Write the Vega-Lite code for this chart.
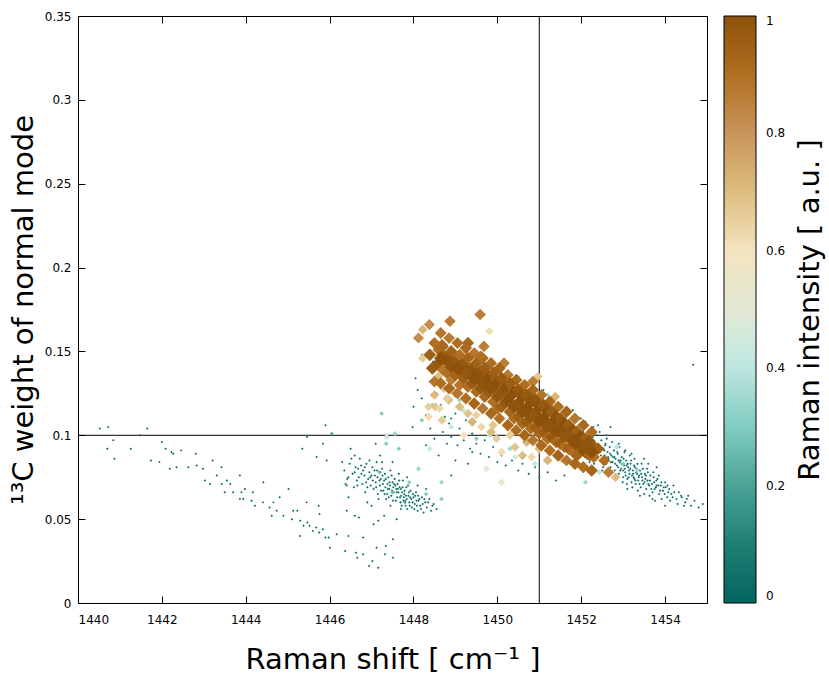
{
  "$schema": "https://vega.github.io/schema/vega-lite/v6.json",
  "width": 629,
  "height": 587,
  "autosize": {"type": "none"},
  "padding": {"left": 78, "top": 16, "right": 122, "bottom": 72},
  "background": "white",
  "config": {
    "font": "DejaVu Sans",
    "view": {"stroke": "black", "strokeWidth": 1},
    "axis": {
      "domain": false,
      "grid": false,
      "tickColor": "black",
      "tickSize": -7,
      "labelColor": "black",
      "labelFontSize": 12,
      "titleColor": "black",
      "titleFontSize": 29,
      "titleFontWeight": "normal"
    }
  },
  "resolve": {"axis": {"x": "independent", "y": "independent"}},
  "datasets": {
    "modes": [
      {"shift": 1440.52, "weight": 0.104, "intensity": 0.03},
      {"shift": 1440.72, "weight": 0.105, "intensity": 0.03},
      {"shift": 1441.65, "weight": 0.104, "intensity": 0.03},
      {"shift": 1441.48, "weight": 0.1, "intensity": 0.03},
      {"shift": 1440.7, "weight": 0.092, "intensity": 0.03},
      {"shift": 1440.84, "weight": 0.097, "intensity": 0.03},
      {"shift": 1440.87, "weight": 0.086, "intensity": 0.03},
      {"shift": 1441.26, "weight": 0.092, "intensity": 0.03},
      {"shift": 1441.74, "weight": 0.085, "intensity": 0.03},
      {"shift": 1441.94, "weight": 0.084, "intensity": 0.03},
      {"shift": 1442.0, "weight": 0.096, "intensity": 0.03},
      {"shift": 1442.09, "weight": 0.092, "intensity": 0.03},
      {"shift": 1442.23, "weight": 0.09, "intensity": 0.03},
      {"shift": 1442.27, "weight": 0.089, "intensity": 0.03},
      {"shift": 1442.46, "weight": 0.091, "intensity": 0.03},
      {"shift": 1442.19, "weight": 0.08, "intensity": 0.03},
      {"shift": 1442.35, "weight": 0.081, "intensity": 0.03},
      {"shift": 1442.63, "weight": 0.081, "intensity": 0.03},
      {"shift": 1442.83, "weight": 0.082, "intensity": 0.03},
      {"shift": 1442.81, "weight": 0.089, "intensity": 0.03},
      {"shift": 1442.98, "weight": 0.08, "intensity": 0.03},
      {"shift": 1443.21, "weight": 0.085, "intensity": 0.03},
      {"shift": 1443.42, "weight": 0.081, "intensity": 0.03},
      {"shift": 1443.03, "weight": 0.073, "intensity": 0.03},
      {"shift": 1443.15, "weight": 0.071, "intensity": 0.03},
      {"shift": 1443.31, "weight": 0.076, "intensity": 0.03},
      {"shift": 1443.43, "weight": 0.071, "intensity": 0.03},
      {"shift": 1443.55, "weight": 0.073, "intensity": 0.03},
      {"shift": 1443.63, "weight": 0.071, "intensity": 0.03},
      {"shift": 1443.5, "weight": 0.066, "intensity": 0.03},
      {"shift": 1443.7, "weight": 0.066, "intensity": 0.03},
      {"shift": 1443.86, "weight": 0.076, "intensity": 0.03},
      {"shift": 1443.98, "weight": 0.068, "intensity": 0.03},
      {"shift": 1443.9, "weight": 0.066, "intensity": 0.03},
      {"shift": 1443.94, "weight": 0.062, "intensity": 0.03},
      {"shift": 1444.17, "weight": 0.066, "intensity": 0.03},
      {"shift": 1443.86, "weight": 0.062, "intensity": 0.03},
      {"shift": 1444.14, "weight": 0.061, "intensity": 0.03},
      {"shift": 1444.22, "weight": 0.058, "intensity": 0.03},
      {"shift": 1444.42, "weight": 0.072, "intensity": 0.03},
      {"shift": 1444.41, "weight": 0.06, "intensity": 0.03},
      {"shift": 1444.57, "weight": 0.057, "intensity": 0.03},
      {"shift": 1444.62, "weight": 0.052, "intensity": 0.03},
      {"shift": 1444.66, "weight": 0.06, "intensity": 0.03},
      {"shift": 1444.81, "weight": 0.063, "intensity": 0.03},
      {"shift": 1444.74, "weight": 0.055, "intensity": 0.03},
      {"shift": 1444.9, "weight": 0.052, "intensity": 0.03},
      {"shift": 1445.02, "weight": 0.068, "intensity": 0.03},
      {"shift": 1445.13, "weight": 0.055, "intensity": 0.03},
      {"shift": 1445.23, "weight": 0.055, "intensity": 0.03},
      {"shift": 1445.1, "weight": 0.05, "intensity": 0.03},
      {"shift": 1445.3, "weight": 0.049, "intensity": 0.03},
      {"shift": 1445.38, "weight": 0.046, "intensity": 0.03},
      {"shift": 1445.47, "weight": 0.048, "intensity": 0.03},
      {"shift": 1445.29, "weight": 0.04, "intensity": 0.03},
      {"shift": 1445.45, "weight": 0.06, "intensity": 0.03},
      {"shift": 1445.52, "weight": 0.046, "intensity": 0.03},
      {"shift": 1445.6, "weight": 0.043, "intensity": 0.03},
      {"shift": 1445.68, "weight": 0.045, "intensity": 0.03},
      {"shift": 1445.75, "weight": 0.042, "intensity": 0.03},
      {"shift": 1445.84, "weight": 0.044, "intensity": 0.03},
      {"shift": 1445.9, "weight": 0.039, "intensity": 0.03},
      {"shift": 1445.74, "weight": 0.058, "intensity": 0.03},
      {"shift": 1445.76, "weight": 0.053, "intensity": 0.03},
      {"shift": 1445.98, "weight": 0.039, "intensity": 0.03},
      {"shift": 1446.01, "weight": 0.033, "intensity": 0.03},
      {"shift": 1446.17, "weight": 0.041, "intensity": 0.03},
      {"shift": 1446.37, "weight": 0.031, "intensity": 0.03},
      {"shift": 1446.45, "weight": 0.04, "intensity": 0.03},
      {"shift": 1446.63, "weight": 0.03, "intensity": 0.03},
      {"shift": 1446.66, "weight": 0.027, "intensity": 0.03},
      {"shift": 1446.8, "weight": 0.039, "intensity": 0.03},
      {"shift": 1446.8, "weight": 0.029, "intensity": 0.03},
      {"shift": 1446.94, "weight": 0.022, "intensity": 0.03},
      {"shift": 1447.02, "weight": 0.025, "intensity": 0.03},
      {"shift": 1447.16, "weight": 0.021, "intensity": 0.03},
      {"shift": 1447.32, "weight": 0.029, "intensity": 0.03},
      {"shift": 1447.51, "weight": 0.027, "intensity": 0.03},
      {"shift": 1447.34, "weight": 0.034, "intensity": 0.03},
      {"shift": 1447.51, "weight": 0.038, "intensity": 0.03},
      {"shift": 1447.12, "weight": 0.033, "intensity": 0.03},
      {"shift": 1447.16, "weight": 0.049, "intensity": 0.03},
      {"shift": 1447.05, "weight": 0.047, "intensity": 0.03},
      {"shift": 1446.7, "weight": 0.051, "intensity": 0.03},
      {"shift": 1446.6, "weight": 0.052, "intensity": 0.03},
      {"shift": 1446.41, "weight": 0.055, "intensity": 0.03},
      {"shift": 1446.66, "weight": 0.07, "intensity": 0.03},
      {"shift": 1446.41, "weight": 0.07, "intensity": 0.03},
      {"shift": 1446.45, "weight": 0.075, "intensity": 0.03},
      {"shift": 1445.9, "weight": 0.106, "intensity": 0.03},
      {"shift": 1445.46, "weight": 0.099, "intensity": 0.03},
      {"shift": 1445.84, "weight": 0.095, "intensity": 0.03},
      {"shift": 1445.35, "weight": 0.092, "intensity": 0.03},
      {"shift": 1445.93, "weight": 0.085, "intensity": 0.03},
      {"shift": 1445.69, "weight": 0.087, "intensity": 0.03},
      {"shift": 1446.35, "weight": 0.079, "intensity": 0.05},
      {"shift": 1446.42, "weight": 0.074, "intensity": 0.05},
      {"shift": 1446.48, "weight": 0.083, "intensity": 0.05},
      {"shift": 1446.55, "weight": 0.077, "intensity": 0.05},
      {"shift": 1446.58, "weight": 0.069, "intensity": 0.05},
      {"shift": 1446.62, "weight": 0.081, "intensity": 0.05},
      {"shift": 1446.7, "weight": 0.075, "intensity": 0.08},
      {"shift": 1446.72, "weight": 0.086, "intensity": 0.05},
      {"shift": 1446.78, "weight": 0.071, "intensity": 0.05},
      {"shift": 1446.8, "weight": 0.079, "intensity": 0.05},
      {"shift": 1446.85, "weight": 0.066, "intensity": 0.05},
      {"shift": 1446.88, "weight": 0.083, "intensity": 0.08},
      {"shift": 1446.92, "weight": 0.074, "intensity": 0.05},
      {"shift": 1446.95, "weight": 0.078, "intensity": 0.05},
      {"shift": 1446.98, "weight": 0.07, "intensity": 0.05},
      {"shift": 1447.02, "weight": 0.081, "intensity": 0.05},
      {"shift": 1447.05, "weight": 0.068, "intensity": 0.08},
      {"shift": 1447.08, "weight": 0.076, "intensity": 0.05},
      {"shift": 1447.1, "weight": 0.072, "intensity": 0.05},
      {"shift": 1447.12, "weight": 0.084, "intensity": 0.05},
      {"shift": 1447.15, "weight": 0.065, "intensity": 0.05},
      {"shift": 1447.18, "weight": 0.078, "intensity": 0.08},
      {"shift": 1447.2, "weight": 0.07, "intensity": 0.05},
      {"shift": 1447.22, "weight": 0.074, "intensity": 0.05},
      {"shift": 1447.25, "weight": 0.08, "intensity": 0.05},
      {"shift": 1447.28, "weight": 0.067, "intensity": 0.05},
      {"shift": 1447.3, "weight": 0.073, "intensity": 0.08},
      {"shift": 1447.32, "weight": 0.077, "intensity": 0.05},
      {"shift": 1447.35, "weight": 0.062, "intensity": 0.05},
      {"shift": 1447.38, "weight": 0.071, "intensity": 0.05},
      {"shift": 1447.4, "weight": 0.075, "intensity": 0.05},
      {"shift": 1447.42, "weight": 0.068, "intensity": 0.1},
      {"shift": 1447.45, "weight": 0.079, "intensity": 0.05},
      {"shift": 1447.47, "weight": 0.064, "intensity": 0.05},
      {"shift": 1447.5, "weight": 0.072, "intensity": 0.05},
      {"shift": 1447.52, "weight": 0.069, "intensity": 0.05},
      {"shift": 1447.55, "weight": 0.074, "intensity": 0.08},
      {"shift": 1447.58, "weight": 0.061, "intensity": 0.05},
      {"shift": 1447.6, "weight": 0.066, "intensity": 0.05},
      {"shift": 1447.62, "weight": 0.071, "intensity": 0.05},
      {"shift": 1447.65, "weight": 0.077, "intensity": 0.05},
      {"shift": 1447.68, "weight": 0.063, "intensity": 0.08},
      {"shift": 1447.7, "weight": 0.068, "intensity": 0.05},
      {"shift": 1447.72, "weight": 0.058, "intensity": 0.05},
      {"shift": 1447.75, "weight": 0.073, "intensity": 0.05},
      {"shift": 1447.78, "weight": 0.065, "intensity": 0.05},
      {"shift": 1447.8, "weight": 0.061, "intensity": 0.08},
      {"shift": 1447.83, "weight": 0.069, "intensity": 0.05},
      {"shift": 1447.85, "weight": 0.056, "intensity": 0.05},
      {"shift": 1447.88, "weight": 0.064, "intensity": 0.05},
      {"shift": 1447.9, "weight": 0.06, "intensity": 0.05},
      {"shift": 1447.93, "weight": 0.067, "intensity": 0.08},
      {"shift": 1447.96, "weight": 0.057, "intensity": 0.05},
      {"shift": 1448.0, "weight": 0.063, "intensity": 0.05},
      {"shift": 1448.03, "weight": 0.059, "intensity": 0.05},
      {"shift": 1448.06, "weight": 0.066, "intensity": 0.05},
      {"shift": 1448.1, "weight": 0.055, "intensity": 0.08},
      {"shift": 1448.12, "weight": 0.061, "intensity": 0.05},
      {"shift": 1448.16, "weight": 0.058, "intensity": 0.05},
      {"shift": 1448.2, "weight": 0.063, "intensity": 0.05},
      {"shift": 1448.24, "weight": 0.054, "intensity": 0.05},
      {"shift": 1448.28, "weight": 0.06, "intensity": 0.08},
      {"shift": 1448.32, "weight": 0.057, "intensity": 0.05},
      {"shift": 1448.38, "weight": 0.062, "intensity": 0.05},
      {"shift": 1448.42, "weight": 0.055, "intensity": 0.05},
      {"shift": 1448.48, "weight": 0.059, "intensity": 0.05},
      {"shift": 1448.55, "weight": 0.056, "intensity": 0.05},
      {"shift": 1447.0, "weight": 0.058, "intensity": 0.05},
      {"shift": 1446.9, "weight": 0.06, "intensity": 0.05},
      {"shift": 1447.3, "weight": 0.052, "intensity": 0.05},
      {"shift": 1447.6, "weight": 0.05, "intensity": 0.05},
      {"shift": 1446.6, "weight": 0.088, "intensity": 0.05},
      {"shift": 1446.5, "weight": 0.092, "intensity": 0.05},
      {"shift": 1447.2, "weight": 0.088, "intensity": 0.05},
      {"shift": 1447.5, "weight": 0.084, "intensity": 0.05},
      {"shift": 1447.1, "weight": 0.095, "intensity": 0.05},
      {"shift": 1446.45, "weight": 0.063, "intensity": 0.05},
      {"shift": 1447.85, "weight": 0.075, "intensity": 0.05},
      {"shift": 1448.1, "weight": 0.07, "intensity": 0.05},
      {"shift": 1448.3, "weight": 0.068, "intensity": 0.05},
      {"shift": 1446.3, "weight": 0.084, "intensity": 0.05},
      {"shift": 1446.38, "weight": 0.071, "intensity": 0.05},
      {"shift": 1446.52, "weight": 0.086, "intensity": 0.05},
      {"shift": 1446.65, "weight": 0.073, "intensity": 0.05},
      {"shift": 1446.75, "weight": 0.082, "intensity": 0.05},
      {"shift": 1446.83, "weight": 0.076, "intensity": 0.05},
      {"shift": 1446.9, "weight": 0.069, "intensity": 0.05},
      {"shift": 1447.0, "weight": 0.076, "intensity": 0.08},
      {"shift": 1447.03, "weight": 0.073, "intensity": 0.05},
      {"shift": 1447.13, "weight": 0.079, "intensity": 0.05},
      {"shift": 1447.17, "weight": 0.062, "intensity": 0.05},
      {"shift": 1447.26, "weight": 0.076, "intensity": 0.08},
      {"shift": 1447.33, "weight": 0.069, "intensity": 0.05},
      {"shift": 1447.37, "weight": 0.065, "intensity": 0.05},
      {"shift": 1447.43, "weight": 0.072, "intensity": 0.05},
      {"shift": 1447.48, "weight": 0.076, "intensity": 0.08},
      {"shift": 1447.53, "weight": 0.066, "intensity": 0.05},
      {"shift": 1447.57, "weight": 0.07, "intensity": 0.05},
      {"shift": 1447.63, "weight": 0.068, "intensity": 0.05},
      {"shift": 1447.66, "weight": 0.073, "intensity": 0.08},
      {"shift": 1447.73, "weight": 0.066, "intensity": 0.05},
      {"shift": 1447.76, "weight": 0.061, "intensity": 0.05},
      {"shift": 1447.82, "weight": 0.064, "intensity": 0.05},
      {"shift": 1447.87, "weight": 0.07, "intensity": 0.05},
      {"shift": 1447.92, "weight": 0.063, "intensity": 0.08},
      {"shift": 1447.98, "weight": 0.06, "intensity": 0.05},
      {"shift": 1448.04, "weight": 0.064, "intensity": 0.05},
      {"shift": 1448.08, "weight": 0.058, "intensity": 0.05},
      {"shift": 1448.14, "weight": 0.062, "intensity": 0.05},
      {"shift": 1448.22, "weight": 0.059, "intensity": 0.05},
      {"shift": 1448.35, "weight": 0.06, "intensity": 0.05},
      {"shift": 1448.45, "weight": 0.058, "intensity": 0.05},
      {"shift": 1447.45, "weight": 0.058, "intensity": 0.05},
      {"shift": 1447.7, "weight": 0.056, "intensity": 0.05},
      {"shift": 1447.25, "weight": 0.084, "intensity": 0.05},
      {"shift": 1446.95, "weight": 0.085, "intensity": 0.05},
      {"shift": 1446.6, "weight": 0.078, "intensity": 0.05},
      {"shift": 1446.68, "weight": 0.08, "intensity": 0.05},
      {"shift": 1446.76, "weight": 0.077, "intensity": 0.08},
      {"shift": 1446.84, "weight": 0.081, "intensity": 0.05},
      {"shift": 1446.87, "weight": 0.072, "intensity": 0.05},
      {"shift": 1446.97, "weight": 0.075, "intensity": 0.05},
      {"shift": 1447.07, "weight": 0.079, "intensity": 0.08},
      {"shift": 1447.11, "weight": 0.069, "intensity": 0.05},
      {"shift": 1447.14, "weight": 0.075, "intensity": 0.05},
      {"shift": 1447.19, "weight": 0.073, "intensity": 0.05},
      {"shift": 1447.23, "weight": 0.067, "intensity": 0.08},
      {"shift": 1447.27, "weight": 0.071, "intensity": 0.05},
      {"shift": 1447.31, "weight": 0.065, "intensity": 0.05},
      {"shift": 1447.34, "weight": 0.074, "intensity": 0.05},
      {"shift": 1447.39, "weight": 0.068, "intensity": 0.08},
      {"shift": 1447.41, "weight": 0.063, "intensity": 0.05},
      {"shift": 1447.44, "weight": 0.07, "intensity": 0.05},
      {"shift": 1447.49, "weight": 0.067, "intensity": 0.05},
      {"shift": 1447.51, "weight": 0.061, "intensity": 0.08},
      {"shift": 1447.54, "weight": 0.071, "intensity": 0.05},
      {"shift": 1447.59, "weight": 0.068, "intensity": 0.05},
      {"shift": 1447.61, "weight": 0.063, "intensity": 0.05},
      {"shift": 1447.64, "weight": 0.066, "intensity": 0.08},
      {"shift": 1447.67, "weight": 0.069, "intensity": 0.05},
      {"shift": 1447.69, "weight": 0.06, "intensity": 0.05},
      {"shift": 1447.71, "weight": 0.064, "intensity": 0.05},
      {"shift": 1447.74, "weight": 0.069, "intensity": 0.08},
      {"shift": 1447.77, "weight": 0.063, "intensity": 0.05},
      {"shift": 1447.79, "weight": 0.067, "intensity": 0.05},
      {"shift": 1447.81, "weight": 0.058, "intensity": 0.05},
      {"shift": 1447.84, "weight": 0.062, "intensity": 0.08},
      {"shift": 1447.89, "weight": 0.066, "intensity": 0.05},
      {"shift": 1447.91, "weight": 0.058, "intensity": 0.05},
      {"shift": 1447.95, "weight": 0.062, "intensity": 0.05},
      {"shift": 1447.99, "weight": 0.065, "intensity": 0.08},
      {"shift": 1448.02, "weight": 0.056, "intensity": 0.05},
      {"shift": 1448.07, "weight": 0.061, "intensity": 0.05},
      {"shift": 1448.11, "weight": 0.064, "intensity": 0.05},
      {"shift": 1448.18, "weight": 0.056, "intensity": 0.05},
      {"shift": 1448.26, "weight": 0.062, "intensity": 0.05},
      {"shift": 1448.05, "weight": 0.134, "intensity": 0.05},
      {"shift": 1448.1, "weight": 0.127, "intensity": 0.05},
      {"shift": 1448.0, "weight": 0.117, "intensity": 0.05},
      {"shift": 1447.98, "weight": 0.105, "intensity": 0.05},
      {"shift": 1448.2, "weight": 0.122, "intensity": 0.05},
      {"shift": 1448.3, "weight": 0.112, "intensity": 0.05},
      {"shift": 1448.4, "weight": 0.104, "intensity": 0.05},
      {"shift": 1448.47, "weight": 0.144, "intensity": 0.05},
      {"shift": 1448.5, "weight": 0.098, "intensity": 0.05},
      {"shift": 1448.55, "weight": 0.125, "intensity": 0.05},
      {"shift": 1448.65, "weight": 0.118, "intensity": 0.05},
      {"shift": 1448.7, "weight": 0.102, "intensity": 0.05},
      {"shift": 1448.75, "weight": 0.111, "intensity": 0.05},
      {"shift": 1448.8, "weight": 0.095, "intensity": 0.05},
      {"shift": 1448.85, "weight": 0.107, "intensity": 0.05},
      {"shift": 1448.9, "weight": 0.099, "intensity": 0.05},
      {"shift": 1449.0, "weight": 0.113, "intensity": 0.05},
      {"shift": 1449.05, "weight": 0.094, "intensity": 0.05},
      {"shift": 1449.1, "weight": 0.104, "intensity": 0.05},
      {"shift": 1449.2, "weight": 0.097, "intensity": 0.05},
      {"shift": 1449.25, "weight": 0.109, "intensity": 0.05},
      {"shift": 1449.35, "weight": 0.092, "intensity": 0.05},
      {"shift": 1449.4, "weight": 0.101, "intensity": 0.05},
      {"shift": 1449.5, "weight": 0.095, "intensity": 0.05},
      {"shift": 1449.6, "weight": 0.089, "intensity": 0.05},
      {"shift": 1449.7, "weight": 0.097, "intensity": 0.05},
      {"shift": 1449.8, "weight": 0.087, "intensity": 0.05},
      {"shift": 1449.9, "weight": 0.093, "intensity": 0.05},
      {"shift": 1450.0, "weight": 0.084, "intensity": 0.05},
      {"shift": 1450.1, "weight": 0.088, "intensity": 0.05},
      {"shift": 1450.2, "weight": 0.082, "intensity": 0.05},
      {"shift": 1450.35, "weight": 0.085, "intensity": 0.05},
      {"shift": 1450.5, "weight": 0.079, "intensity": 0.05},
      {"shift": 1450.6, "weight": 0.083, "intensity": 0.05},
      {"shift": 1450.75, "weight": 0.077, "intensity": 0.05},
      {"shift": 1450.9, "weight": 0.081, "intensity": 0.05},
      {"shift": 1451.0, "weight": 0.075, "intensity": 0.05},
      {"shift": 1451.2, "weight": 0.078, "intensity": 0.05},
      {"shift": 1451.4, "weight": 0.073, "intensity": 0.05},
      {"shift": 1451.6, "weight": 0.076, "intensity": 0.05},
      {"shift": 1448.3, "weight": 0.094, "intensity": 0.05},
      {"shift": 1448.6, "weight": 0.088, "intensity": 0.05},
      {"shift": 1449.0, "weight": 0.085, "intensity": 0.05},
      {"shift": 1449.3, "weight": 0.083, "intensity": 0.05},
      {"shift": 1448.9, "weight": 0.076, "intensity": 0.05},
      {"shift": 1449.4, "weight": 0.09, "intensity": 0.05},
      {"shift": 1450.5, "weight": 0.135, "intensity": 0.05},
      {"shift": 1450.9, "weight": 0.128, "intensity": 0.05},
      {"shift": 1451.3, "weight": 0.122, "intensity": 0.05},
      {"shift": 1451.5, "weight": 0.118, "intensity": 0.05},
      {"shift": 1451.8, "weight": 0.115, "intensity": 0.05},
      {"shift": 1451.99, "weight": 0.11, "intensity": 0.05},
      {"shift": 1452.1, "weight": 0.108, "intensity": 0.05},
      {"shift": 1452.29, "weight": 0.105, "intensity": 0.05},
      {"shift": 1452.7, "weight": 0.105, "intensity": 0.05},
      {"shift": 1451.1, "weight": 0.127, "intensity": 0.05},
      {"shift": 1450.7, "weight": 0.131, "intensity": 0.05},
      {"shift": 1448.2, "weight": 0.148, "intensity": 0.05},
      {"shift": 1448.9, "weight": 0.11, "intensity": 0.05},
      {"shift": 1451.75, "weight": 0.101, "intensity": 0.08},
      {"shift": 1451.82, "weight": 0.096, "intensity": 0.08},
      {"shift": 1451.88, "weight": 0.104, "intensity": 0.05},
      {"shift": 1451.95, "weight": 0.093, "intensity": 0.08},
      {"shift": 1452.0, "weight": 0.099, "intensity": 0.05},
      {"shift": 1452.05, "weight": 0.102, "intensity": 0.05},
      {"shift": 1452.08, "weight": 0.095, "intensity": 0.08},
      {"shift": 1452.12, "weight": 0.091, "intensity": 0.05},
      {"shift": 1452.15, "weight": 0.098, "intensity": 0.05},
      {"shift": 1452.2, "weight": 0.101, "intensity": 0.05},
      {"shift": 1452.22, "weight": 0.094, "intensity": 0.08},
      {"shift": 1452.26, "weight": 0.089, "intensity": 0.05},
      {"shift": 1452.3, "weight": 0.097, "intensity": 0.05},
      {"shift": 1452.33, "weight": 0.092, "intensity": 0.05},
      {"shift": 1452.36, "weight": 0.1, "intensity": 0.05},
      {"shift": 1452.4, "weight": 0.087, "intensity": 0.08},
      {"shift": 1452.42, "weight": 0.094, "intensity": 0.05},
      {"shift": 1452.45, "weight": 0.09, "intensity": 0.05},
      {"shift": 1452.48, "weight": 0.097, "intensity": 0.05},
      {"shift": 1452.5, "weight": 0.085, "intensity": 0.05},
      {"shift": 1452.53, "weight": 0.092, "intensity": 0.08},
      {"shift": 1452.56, "weight": 0.088, "intensity": 0.05},
      {"shift": 1452.58, "weight": 0.095, "intensity": 0.05},
      {"shift": 1452.6, "weight": 0.083, "intensity": 0.05},
      {"shift": 1452.63, "weight": 0.09, "intensity": 0.05},
      {"shift": 1452.65, "weight": 0.086, "intensity": 0.08},
      {"shift": 1452.68, "weight": 0.093, "intensity": 0.05},
      {"shift": 1452.7, "weight": 0.081, "intensity": 0.05},
      {"shift": 1452.72, "weight": 0.088, "intensity": 0.05},
      {"shift": 1452.75, "weight": 0.084, "intensity": 0.05},
      {"shift": 1452.78, "weight": 0.091, "intensity": 0.08},
      {"shift": 1452.8, "weight": 0.079, "intensity": 0.05},
      {"shift": 1452.82, "weight": 0.086, "intensity": 0.05},
      {"shift": 1452.85, "weight": 0.082, "intensity": 0.05},
      {"shift": 1452.87, "weight": 0.089, "intensity": 0.05},
      {"shift": 1452.9, "weight": 0.077, "intensity": 0.08},
      {"shift": 1452.92, "weight": 0.084, "intensity": 0.05},
      {"shift": 1452.95, "weight": 0.08, "intensity": 0.05},
      {"shift": 1452.97, "weight": 0.087, "intensity": 0.05},
      {"shift": 1453.0, "weight": 0.075, "intensity": 0.05},
      {"shift": 1453.02, "weight": 0.082, "intensity": 0.08},
      {"shift": 1453.05, "weight": 0.078, "intensity": 0.05},
      {"shift": 1453.07, "weight": 0.085, "intensity": 0.05},
      {"shift": 1453.1, "weight": 0.074, "intensity": 0.05},
      {"shift": 1453.12, "weight": 0.081, "intensity": 0.05},
      {"shift": 1453.15, "weight": 0.077, "intensity": 0.08},
      {"shift": 1453.18, "weight": 0.083, "intensity": 0.05},
      {"shift": 1453.2, "weight": 0.072, "intensity": 0.05},
      {"shift": 1453.23, "weight": 0.079, "intensity": 0.05},
      {"shift": 1453.25, "weight": 0.075, "intensity": 0.05},
      {"shift": 1453.28, "weight": 0.081, "intensity": 0.08},
      {"shift": 1453.3, "weight": 0.071, "intensity": 0.05},
      {"shift": 1453.33, "weight": 0.077, "intensity": 0.05},
      {"shift": 1453.36, "weight": 0.073, "intensity": 0.05},
      {"shift": 1453.4, "weight": 0.079, "intensity": 0.05},
      {"shift": 1453.42, "weight": 0.069, "intensity": 0.08},
      {"shift": 1453.45, "weight": 0.075, "intensity": 0.05},
      {"shift": 1453.48, "weight": 0.071, "intensity": 0.05},
      {"shift": 1453.52, "weight": 0.077, "intensity": 0.05},
      {"shift": 1453.55, "weight": 0.068, "intensity": 0.05},
      {"shift": 1453.58, "weight": 0.073, "intensity": 0.08},
      {"shift": 1453.62, "weight": 0.07, "intensity": 0.05},
      {"shift": 1453.65, "weight": 0.076, "intensity": 0.05},
      {"shift": 1453.7, "weight": 0.066, "intensity": 0.05},
      {"shift": 1453.74, "weight": 0.072, "intensity": 0.05},
      {"shift": 1453.78, "weight": 0.069, "intensity": 0.05},
      {"shift": 1453.82, "weight": 0.074, "intensity": 0.05},
      {"shift": 1453.86, "weight": 0.065, "intensity": 0.05},
      {"shift": 1453.9, "weight": 0.07, "intensity": 0.05},
      {"shift": 1453.95, "weight": 0.067, "intensity": 0.05},
      {"shift": 1454.0, "weight": 0.072, "intensity": 0.05},
      {"shift": 1454.05, "weight": 0.063, "intensity": 0.05},
      {"shift": 1454.1, "weight": 0.068, "intensity": 0.05},
      {"shift": 1454.15, "weight": 0.065, "intensity": 0.05},
      {"shift": 1454.2, "weight": 0.07, "intensity": 0.05},
      {"shift": 1454.27, "weight": 0.062, "intensity": 0.05},
      {"shift": 1454.33, "weight": 0.066, "intensity": 0.05},
      {"shift": 1454.4, "weight": 0.063, "intensity": 0.05},
      {"shift": 1454.48, "weight": 0.06, "intensity": 0.05},
      {"shift": 1454.55, "weight": 0.064, "intensity": 0.05},
      {"shift": 1454.62, "weight": 0.058, "intensity": 0.05},
      {"shift": 1454.7, "weight": 0.061, "intensity": 0.05},
      {"shift": 1454.8, "weight": 0.057, "intensity": 0.05},
      {"shift": 1454.9, "weight": 0.059, "intensity": 0.05},
      {"shift": 1452.4, "weight": 0.106, "intensity": 0.05},
      {"shift": 1452.6, "weight": 0.1, "intensity": 0.05},
      {"shift": 1452.9, "weight": 0.095, "intensity": 0.05},
      {"shift": 1453.2, "weight": 0.089, "intensity": 0.05},
      {"shift": 1453.5, "weight": 0.086, "intensity": 0.05},
      {"shift": 1453.8, "weight": 0.081, "intensity": 0.05},
      {"shift": 1452.5, "weight": 0.079, "intensity": 0.05},
      {"shift": 1452.8, "weight": 0.074, "intensity": 0.05},
      {"shift": 1453.1, "weight": 0.068, "intensity": 0.05},
      {"shift": 1453.4, "weight": 0.064, "intensity": 0.05},
      {"shift": 1453.7, "weight": 0.062, "intensity": 0.05},
      {"shift": 1454.0, "weight": 0.058, "intensity": 0.05},
      {"shift": 1452.2, "weight": 0.084, "intensity": 0.05},
      {"shift": 1453.05, "weight": 0.091, "intensity": 0.05},
      {"shift": 1453.6, "weight": 0.083, "intensity": 0.05},
      {"shift": 1454.67, "weight": 0.142, "intensity": 0.05},
      {"shift": 1451.6, "weight": 0.085, "intensity": 0.05},
      {"shift": 1451.9, "weight": 0.083, "intensity": 0.05},
      {"shift": 1452.02, "weight": 0.107, "intensity": 0.08},
      {"shift": 1452.14, "weight": 0.086, "intensity": 0.05},
      {"shift": 1452.25, "weight": 0.104, "intensity": 0.05},
      {"shift": 1452.31, "weight": 0.083, "intensity": 0.05},
      {"shift": 1452.44, "weight": 0.102, "intensity": 0.08},
      {"shift": 1452.52, "weight": 0.081, "intensity": 0.05},
      {"shift": 1452.61, "weight": 0.098, "intensity": 0.05},
      {"shift": 1452.66, "weight": 0.078, "intensity": 0.05},
      {"shift": 1452.74, "weight": 0.096, "intensity": 0.08},
      {"shift": 1452.83, "weight": 0.076, "intensity": 0.05},
      {"shift": 1452.91, "weight": 0.093, "intensity": 0.05},
      {"shift": 1452.99, "weight": 0.072, "intensity": 0.05},
      {"shift": 1453.03, "weight": 0.09, "intensity": 0.08},
      {"shift": 1453.09, "weight": 0.071, "intensity": 0.05},
      {"shift": 1453.16, "weight": 0.088, "intensity": 0.05},
      {"shift": 1453.22, "weight": 0.069, "intensity": 0.05},
      {"shift": 1453.27, "weight": 0.086, "intensity": 0.08},
      {"shift": 1453.35, "weight": 0.067, "intensity": 0.05},
      {"shift": 1453.44, "weight": 0.083, "intensity": 0.05},
      {"shift": 1453.5, "weight": 0.065, "intensity": 0.05},
      {"shift": 1453.57, "weight": 0.08, "intensity": 0.05},
      {"shift": 1453.63, "weight": 0.064, "intensity": 0.05},
      {"shift": 1453.72, "weight": 0.078, "intensity": 0.05},
      {"shift": 1453.76, "weight": 0.061, "intensity": 0.05},
      {"shift": 1453.85, "weight": 0.076, "intensity": 0.05},
      {"shift": 1453.92, "weight": 0.062, "intensity": 0.05},
      {"shift": 1454.02, "weight": 0.069, "intensity": 0.05},
      {"shift": 1454.12, "weight": 0.061, "intensity": 0.05},
      {"shift": 1454.22, "weight": 0.066, "intensity": 0.05},
      {"shift": 1454.3, "weight": 0.059, "intensity": 0.05},
      {"shift": 1454.38, "weight": 0.064, "intensity": 0.05},
      {"shift": 1454.45, "weight": 0.058, "intensity": 0.05},
      {"shift": 1454.52, "weight": 0.062, "intensity": 0.05},
      {"shift": 1452.55, "weight": 0.091, "intensity": 0.05},
      {"shift": 1452.64, "weight": 0.087, "intensity": 0.08},
      {"shift": 1452.71, "weight": 0.084, "intensity": 0.05},
      {"shift": 1452.79, "weight": 0.087, "intensity": 0.05},
      {"shift": 1452.88, "weight": 0.081, "intensity": 0.05},
      {"shift": 1452.94, "weight": 0.085, "intensity": 0.08},
      {"shift": 1453.0, "weight": 0.079, "intensity": 0.05},
      {"shift": 1453.08, "weight": 0.082, "intensity": 0.05},
      {"shift": 1453.14, "weight": 0.079, "intensity": 0.05},
      {"shift": 1453.21, "weight": 0.076, "intensity": 0.08},
      {"shift": 1453.27, "weight": 0.074, "intensity": 0.05},
      {"shift": 1453.32, "weight": 0.08, "intensity": 0.05},
      {"shift": 1453.38, "weight": 0.076, "intensity": 0.05},
      {"shift": 1453.46, "weight": 0.073, "intensity": 0.05},
      {"shift": 1453.53, "weight": 0.074, "intensity": 0.05},
      {"shift": 1453.6, "weight": 0.071, "intensity": 0.05},
      {"shift": 1453.67, "weight": 0.068, "intensity": 0.05},
      {"shift": 1453.73, "weight": 0.075, "intensity": 0.05},
      {"shift": 1453.8, "weight": 0.07, "intensity": 0.05},
      {"shift": 1453.88, "weight": 0.067, "intensity": 0.05},
      {"shift": 1453.97, "weight": 0.069, "intensity": 0.05},
      {"shift": 1454.08, "weight": 0.066, "intensity": 0.05},
      {"shift": 1454.18, "weight": 0.063, "intensity": 0.05},
      {"shift": 1452.18, "weight": 0.092, "intensity": 0.05},
      {"shift": 1452.28, "weight": 0.099, "intensity": 0.08},
      {"shift": 1452.38, "weight": 0.093, "intensity": 0.05},
      {"shift": 1452.47, "weight": 0.088, "intensity": 0.05},
      {"shift": 1452.57, "weight": 0.094, "intensity": 0.08},
      {"shift": 1452.62, "weight": 0.085, "intensity": 0.05},
      {"shift": 1452.69, "weight": 0.089, "intensity": 0.05},
      {"shift": 1452.76, "weight": 0.087, "intensity": 0.08},
      {"shift": 1452.81, "weight": 0.083, "intensity": 0.05},
      {"shift": 1452.86, "weight": 0.09, "intensity": 0.05},
      {"shift": 1452.89, "weight": 0.085, "intensity": 0.08},
      {"shift": 1452.93, "weight": 0.079, "intensity": 0.05},
      {"shift": 1452.96, "weight": 0.083, "intensity": 0.05},
      {"shift": 1453.01, "weight": 0.086, "intensity": 0.08},
      {"shift": 1453.04, "weight": 0.08, "intensity": 0.05},
      {"shift": 1453.06, "weight": 0.076, "intensity": 0.05},
      {"shift": 1453.11, "weight": 0.083, "intensity": 0.08},
      {"shift": 1453.13, "weight": 0.075, "intensity": 0.05},
      {"shift": 1453.17, "weight": 0.08, "intensity": 0.05},
      {"shift": 1453.19, "weight": 0.085, "intensity": 0.05},
      {"shift": 1453.24, "weight": 0.077, "intensity": 0.08},
      {"shift": 1453.26, "weight": 0.082, "intensity": 0.05},
      {"shift": 1453.29, "weight": 0.073, "intensity": 0.05},
      {"shift": 1453.31, "weight": 0.078, "intensity": 0.05},
      {"shift": 1453.34, "weight": 0.083, "intensity": 0.08},
      {"shift": 1453.37, "weight": 0.075, "intensity": 0.05},
      {"shift": 1453.39, "weight": 0.071, "intensity": 0.05},
      {"shift": 1453.43, "weight": 0.077, "intensity": 0.05},
      {"shift": 1453.47, "weight": 0.08, "intensity": 0.08},
      {"shift": 1453.51, "weight": 0.072, "intensity": 0.05},
      {"shift": 1453.54, "weight": 0.076, "intensity": 0.05},
      {"shift": 1453.59, "weight": 0.078, "intensity": 0.05},
      {"shift": 1453.64, "weight": 0.073, "intensity": 0.05},
      {"shift": 1453.69, "weight": 0.071, "intensity": 0.05},
      {"shift": 1453.75, "weight": 0.068, "intensity": 0.05},
      {"shift": 1453.79, "weight": 0.073, "intensity": 0.05},
      {"shift": 1453.84, "weight": 0.07, "intensity": 0.05},
      {"shift": 1453.91, "weight": 0.072, "intensity": 0.05},
      {"shift": 1453.99, "weight": 0.065, "intensity": 0.05},
      {"shift": 1454.06, "weight": 0.07, "intensity": 0.05},
      {"shift": 1446.05, "weight": 0.101, "intensity": 0.2},
      {"shift": 1447.24, "weight": 0.113, "intensity": 0.3},
      {"shift": 1447.56, "weight": 0.101, "intensity": 0.35},
      {"shift": 1447.35, "weight": 0.095, "intensity": 0.3},
      {"shift": 1447.65, "weight": 0.092, "intensity": 0.3},
      {"shift": 1447.36, "weight": 0.099, "intensity": 0.45},
      {"shift": 1448.39, "weight": 0.092, "intensity": 0.45},
      {"shift": 1448.12, "weight": 0.08, "intensity": 0.35},
      {"shift": 1448.67, "weight": 0.072, "intensity": 0.35},
      {"shift": 1448.67, "weight": 0.062, "intensity": 0.3},
      {"shift": 1447.2, "weight": 0.078, "intensity": 0.25},
      {"shift": 1447.5, "weight": 0.066, "intensity": 0.25},
      {"shift": 1447.9, "weight": 0.072, "intensity": 0.3},
      {"shift": 1448.3, "weight": 0.065, "intensity": 0.3},
      {"shift": 1447.8, "weight": 0.06, "intensity": 0.2},
      {"shift": 1448.2, "weight": 0.109, "intensity": 0.3},
      {"shift": 1449.1, "weight": 0.121, "intensity": 0.35},
      {"shift": 1449.18, "weight": 0.115, "intensity": 0.4},
      {"shift": 1449.81, "weight": 0.1, "intensity": 0.4},
      {"shift": 1450.3, "weight": 0.092, "intensity": 0.35},
      {"shift": 1450.43, "weight": 0.087, "intensity": 0.45},
      {"shift": 1451.61, "weight": 0.115, "intensity": 0.35},
      {"shift": 1451.2, "weight": 0.124, "intensity": 0.35},
      {"shift": 1452.1, "weight": 0.1, "intensity": 0.4},
      {"shift": 1452.43, "weight": 0.078, "intensity": 0.4},
      {"shift": 1452.1, "weight": 0.072, "intensity": 0.35},
      {"shift": 1452.35, "weight": 0.086, "intensity": 0.45},
      {"shift": 1453.33, "weight": 0.079, "intensity": 0.35},
      {"shift": 1452.85, "weight": 0.093, "intensity": 0.4},
      {"shift": 1448.9, "weight": 0.105, "intensity": 0.45},
      {"shift": 1448.45, "weight": 0.118, "intensity": 0.3},
      {"shift": 1449.5, "weight": 0.098, "intensity": 0.3},
      {"shift": 1451.8, "weight": 0.09, "intensity": 0.45},
      {"shift": 1452.0, "weight": 0.095, "intensity": 0.5},
      {"shift": 1450.9, "weight": 0.083, "intensity": 0.4},
      {"shift": 1453.0, "weight": 0.083, "intensity": 0.3},
      {"shift": 1448.36, "weight": 0.117, "intensity": 0.65},
      {"shift": 1448.36, "weight": 0.111, "intensity": 0.62},
      {"shift": 1448.52, "weight": 0.117, "intensity": 0.68},
      {"shift": 1448.62, "weight": 0.116, "intensity": 0.63},
      {"shift": 1448.68, "weight": 0.109, "intensity": 0.66},
      {"shift": 1448.59, "weight": 0.135, "intensity": 0.7},
      {"shift": 1448.72, "weight": 0.128, "intensity": 0.68},
      {"shift": 1448.84, "weight": 0.121, "intensity": 0.7},
      {"shift": 1449.0, "weight": 0.125, "intensity": 0.72},
      {"shift": 1449.3, "weight": 0.113, "intensity": 0.68},
      {"shift": 1449.62, "weight": 0.105, "intensity": 0.63},
      {"shift": 1449.85, "weight": 0.102, "intensity": 0.7},
      {"shift": 1449.98, "weight": 0.098, "intensity": 0.65},
      {"shift": 1450.1, "weight": 0.09, "intensity": 0.62},
      {"shift": 1450.42, "weight": 0.093, "intensity": 0.68},
      {"shift": 1450.82, "weight": 0.087, "intensity": 0.63},
      {"shift": 1451.54, "weight": 0.086, "intensity": 0.66},
      {"shift": 1452.82, "weight": 0.075, "intensity": 0.7},
      {"shift": 1450.1, "weight": 0.072, "intensity": 0.55},
      {"shift": 1449.74, "weight": 0.08, "intensity": 0.5},
      {"shift": 1449.81, "weight": 0.162, "intensity": 0.62},
      {"shift": 1448.22, "weight": 0.163, "intensity": 0.72},
      {"shift": 1448.22, "weight": 0.146, "intensity": 0.66},
      {"shift": 1450.97, "weight": 0.135, "intensity": 0.68},
      {"shift": 1451.38, "weight": 0.123, "intensity": 0.72},
      {"shift": 1448.5, "weight": 0.14, "intensity": 0.72},
      {"shift": 1449.2, "weight": 0.1, "intensity": 0.6},
      {"shift": 1450.6, "weight": 0.088, "intensity": 0.7},
      {"shift": 1451.2, "weight": 0.085, "intensity": 0.72},
      {"shift": 1449.4, "weight": 0.108, "intensity": 0.72},
      {"shift": 1448.8, "weight": 0.122, "intensity": 0.66},
      {"shift": 1449.1, "weight": 0.117, "intensity": 0.7},
      {"shift": 1449.5, "weight": 0.112, "intensity": 0.65},
      {"shift": 1449.9, "weight": 0.106, "intensity": 0.68},
      {"shift": 1450.3, "weight": 0.1, "intensity": 0.66},
      {"shift": 1448.5, "weight": 0.124, "intensity": 0.7},
      {"shift": 1450.7, "weight": 0.096, "intensity": 0.72},
      {"shift": 1451.0, "weight": 0.092, "intensity": 0.7},
      {"shift": 1449.59, "weight": 0.172, "intensity": 0.86},
      {"shift": 1448.87, "weight": 0.168, "intensity": 0.86},
      {"shift": 1448.38, "weight": 0.166, "intensity": 0.82},
      {"shift": 1448.12, "weight": 0.158, "intensity": 0.82},
      {"shift": 1448.68, "weight": 0.154, "intensity": 0.88},
      {"shift": 1448.39, "weight": 0.148, "intensity": 0.95},
      {"shift": 1449.3, "weight": 0.155, "intensity": 0.92},
      {"shift": 1449.68, "weight": 0.153, "intensity": 0.86},
      {"shift": 1450.16, "weight": 0.143, "intensity": 0.86},
      {"shift": 1450.85, "weight": 0.132, "intensity": 0.86},
      {"shift": 1452.65, "weight": 0.078, "intensity": 0.86},
      {"shift": 1452.55, "weight": 0.085, "intensity": 0.9},
      {"shift": 1448.5, "weight": 0.155, "intensity": 0.9},
      {"shift": 1448.45, "weight": 0.14, "intensity": 0.96},
      {"shift": 1448.5, "weight": 0.132, "intensity": 0.88},
      {"shift": 1448.65, "weight": 0.161, "intensity": 0.88},
      {"shift": 1448.65, "weight": 0.131, "intensity": 0.9},
      {"shift": 1448.85, "weight": 0.158, "intensity": 0.87},
      {"shift": 1448.85, "weight": 0.128, "intensity": 0.92},
      {"shift": 1449.05, "weight": 0.155, "intensity": 0.9},
      {"shift": 1449.05, "weight": 0.125, "intensity": 0.88},
      {"shift": 1449.25, "weight": 0.152, "intensity": 0.92},
      {"shift": 1449.25, "weight": 0.122, "intensity": 0.9},
      {"shift": 1449.45, "weight": 0.149, "intensity": 0.88},
      {"shift": 1449.45, "weight": 0.119, "intensity": 0.93},
      {"shift": 1449.65, "weight": 0.146, "intensity": 0.91},
      {"shift": 1449.65, "weight": 0.116, "intensity": 0.88},
      {"shift": 1449.85, "weight": 0.143, "intensity": 0.9},
      {"shift": 1449.85, "weight": 0.113, "intensity": 0.92},
      {"shift": 1450.05, "weight": 0.14, "intensity": 0.93},
      {"shift": 1450.05, "weight": 0.11, "intensity": 0.89},
      {"shift": 1450.25, "weight": 0.136, "intensity": 0.88},
      {"shift": 1450.25, "weight": 0.106, "intensity": 0.92},
      {"shift": 1450.45, "weight": 0.133, "intensity": 0.92},
      {"shift": 1450.45, "weight": 0.103, "intensity": 0.9},
      {"shift": 1450.65, "weight": 0.13, "intensity": 0.9},
      {"shift": 1450.65, "weight": 0.1, "intensity": 0.93},
      {"shift": 1450.85, "weight": 0.127, "intensity": 0.93},
      {"shift": 1450.85, "weight": 0.097, "intensity": 0.88},
      {"shift": 1451.05, "weight": 0.124, "intensity": 0.89},
      {"shift": 1451.05, "weight": 0.094, "intensity": 0.92},
      {"shift": 1451.25, "weight": 0.12, "intensity": 0.92},
      {"shift": 1451.25, "weight": 0.091, "intensity": 0.9},
      {"shift": 1451.45, "weight": 0.117, "intensity": 0.9},
      {"shift": 1451.45, "weight": 0.088, "intensity": 0.93},
      {"shift": 1451.65, "weight": 0.114, "intensity": 0.93},
      {"shift": 1451.65, "weight": 0.085, "intensity": 0.88},
      {"shift": 1451.85, "weight": 0.11, "intensity": 0.88},
      {"shift": 1451.85, "weight": 0.083, "intensity": 0.92},
      {"shift": 1452.05, "weight": 0.106, "intensity": 0.92},
      {"shift": 1452.05, "weight": 0.081, "intensity": 0.9},
      {"shift": 1452.25, "weight": 0.102, "intensity": 0.9},
      {"shift": 1452.25, "weight": 0.079, "intensity": 0.93},
      {"shift": 1448.6, "weight": 0.151, "intensity": 0.9},
      {"shift": 1448.6, "weight": 0.143, "intensity": 0.97},
      {"shift": 1448.7, "weight": 0.148, "intensity": 0.95},
      {"shift": 1448.7, "weight": 0.139, "intensity": 0.88},
      {"shift": 1448.7, "weight": 0.153, "intensity": 0.92},
      {"shift": 1448.8, "weight": 0.146, "intensity": 0.98},
      {"shift": 1448.8, "weight": 0.137, "intensity": 0.9},
      {"shift": 1448.9, "weight": 0.15, "intensity": 0.94},
      {"shift": 1448.9, "weight": 0.141, "intensity": 0.99},
      {"shift": 1448.9, "weight": 0.133, "intensity": 0.86},
      {"shift": 1449.0, "weight": 0.145, "intensity": 0.97},
      {"shift": 1449.0, "weight": 0.136, "intensity": 0.93},
      {"shift": 1449.1, "weight": 0.148, "intensity": 0.9},
      {"shift": 1449.1, "weight": 0.139, "intensity": 1.0},
      {"shift": 1449.1, "weight": 0.13, "intensity": 0.88},
      {"shift": 1449.2, "weight": 0.143, "intensity": 0.98},
      {"shift": 1449.2, "weight": 0.134, "intensity": 0.95},
      {"shift": 1449.3, "weight": 0.146, "intensity": 0.93},
      {"shift": 1449.3, "weight": 0.138, "intensity": 1.0},
      {"shift": 1449.3, "weight": 0.129, "intensity": 0.9},
      {"shift": 1449.4, "weight": 0.14, "intensity": 0.99},
      {"shift": 1449.4, "weight": 0.131, "intensity": 0.96},
      {"shift": 1449.5, "weight": 0.143, "intensity": 0.94},
      {"shift": 1449.5, "weight": 0.135, "intensity": 1.0},
      {"shift": 1449.5, "weight": 0.126, "intensity": 0.91},
      {"shift": 1449.6, "weight": 0.138, "intensity": 0.99},
      {"shift": 1449.6, "weight": 0.128, "intensity": 0.97},
      {"shift": 1449.6, "weight": 0.147, "intensity": 0.9},
      {"shift": 1449.7, "weight": 0.14, "intensity": 0.96},
      {"shift": 1449.7, "weight": 0.132, "intensity": 1.0},
      {"shift": 1449.7, "weight": 0.123, "intensity": 0.92},
      {"shift": 1449.8, "weight": 0.135, "intensity": 1.0},
      {"shift": 1449.8, "weight": 0.126, "intensity": 0.97},
      {"shift": 1449.9, "weight": 0.137, "intensity": 0.95},
      {"shift": 1449.9, "weight": 0.129, "intensity": 1.0},
      {"shift": 1449.9, "weight": 0.12, "intensity": 0.9},
      {"shift": 1450.0, "weight": 0.132, "intensity": 1.0},
      {"shift": 1450.0, "weight": 0.123, "intensity": 0.98},
      {"shift": 1450.0, "weight": 0.116, "intensity": 0.9},
      {"shift": 1450.1, "weight": 0.134, "intensity": 0.96},
      {"shift": 1450.1, "weight": 0.126, "intensity": 1.0},
      {"shift": 1450.1, "weight": 0.117, "intensity": 0.95},
      {"shift": 1450.2, "weight": 0.129, "intensity": 1.0},
      {"shift": 1450.2, "weight": 0.12, "intensity": 0.98},
      {"shift": 1450.3, "weight": 0.131, "intensity": 0.96},
      {"shift": 1450.3, "weight": 0.123, "intensity": 1.0},
      {"shift": 1450.3, "weight": 0.114, "intensity": 0.93},
      {"shift": 1450.4, "weight": 0.126, "intensity": 1.0},
      {"shift": 1450.4, "weight": 0.117, "intensity": 0.99},
      {"shift": 1450.4, "weight": 0.11, "intensity": 0.9},
      {"shift": 1450.5, "weight": 0.127, "intensity": 0.97},
      {"shift": 1450.5, "weight": 0.119, "intensity": 1.0},
      {"shift": 1450.5, "weight": 0.111, "intensity": 0.95},
      {"shift": 1450.6, "weight": 0.123, "intensity": 1.0},
      {"shift": 1450.6, "weight": 0.114, "intensity": 0.99},
      {"shift": 1450.6, "weight": 0.107, "intensity": 0.92},
      {"shift": 1450.7, "weight": 0.124, "intensity": 0.97},
      {"shift": 1450.7, "weight": 0.116, "intensity": 1.0},
      {"shift": 1450.7, "weight": 0.108, "intensity": 0.96},
      {"shift": 1450.8, "weight": 0.12, "intensity": 1.0},
      {"shift": 1450.8, "weight": 0.111, "intensity": 0.99},
      {"shift": 1450.8, "weight": 0.104, "intensity": 0.9},
      {"shift": 1450.9, "weight": 0.121, "intensity": 0.98},
      {"shift": 1450.9, "weight": 0.113, "intensity": 1.0},
      {"shift": 1450.9, "weight": 0.105, "intensity": 0.95},
      {"shift": 1451.0, "weight": 0.117, "intensity": 1.0},
      {"shift": 1451.0, "weight": 0.108, "intensity": 0.99},
      {"shift": 1451.0, "weight": 0.101, "intensity": 0.92},
      {"shift": 1451.1, "weight": 0.118, "intensity": 0.97},
      {"shift": 1451.1, "weight": 0.11, "intensity": 1.0},
      {"shift": 1451.1, "weight": 0.102, "intensity": 0.96},
      {"shift": 1451.2, "weight": 0.114, "intensity": 1.0},
      {"shift": 1451.2, "weight": 0.105, "intensity": 0.99},
      {"shift": 1451.2, "weight": 0.098, "intensity": 0.9},
      {"shift": 1451.3, "weight": 0.114, "intensity": 0.96},
      {"shift": 1451.3, "weight": 0.107, "intensity": 1.0},
      {"shift": 1451.3, "weight": 0.099, "intensity": 0.97},
      {"shift": 1451.4, "weight": 0.111, "intensity": 1.0},
      {"shift": 1451.4, "weight": 0.102, "intensity": 0.99},
      {"shift": 1451.4, "weight": 0.096, "intensity": 0.92},
      {"shift": 1451.5, "weight": 0.11, "intensity": 0.97},
      {"shift": 1451.5, "weight": 0.103, "intensity": 1.0},
      {"shift": 1451.5, "weight": 0.095, "intensity": 0.95},
      {"shift": 1451.6, "weight": 0.107, "intensity": 1.0},
      {"shift": 1451.6, "weight": 0.099, "intensity": 0.98},
      {"shift": 1451.6, "weight": 0.093, "intensity": 0.9},
      {"shift": 1451.7, "weight": 0.106, "intensity": 0.96},
      {"shift": 1451.7, "weight": 0.099, "intensity": 1.0},
      {"shift": 1451.7, "weight": 0.092, "intensity": 0.94},
      {"shift": 1451.8, "weight": 0.103, "intensity": 1.0},
      {"shift": 1451.8, "weight": 0.096, "intensity": 0.98},
      {"shift": 1451.8, "weight": 0.09, "intensity": 0.9},
      {"shift": 1451.9, "weight": 0.102, "intensity": 0.95},
      {"shift": 1451.9, "weight": 0.094, "intensity": 1.0},
      {"shift": 1451.9, "weight": 0.088, "intensity": 0.93},
      {"shift": 1452.0, "weight": 0.099, "intensity": 1.0},
      {"shift": 1452.0, "weight": 0.092, "intensity": 0.97},
      {"shift": 1452.1, "weight": 0.098, "intensity": 0.95},
      {"shift": 1452.1, "weight": 0.09, "intensity": 1.0},
      {"shift": 1452.2, "weight": 0.096, "intensity": 0.99},
      {"shift": 1452.2, "weight": 0.088, "intensity": 0.92},
      {"shift": 1452.3, "weight": 0.093, "intensity": 0.97},
      {"shift": 1452.3, "weight": 0.087, "intensity": 0.9},
      {"shift": 1452.4, "weight": 0.092, "intensity": 0.95},
      {"shift": 1448.65, "weight": 0.146, "intensity": 1.0},
      {"shift": 1448.85, "weight": 0.143, "intensity": 0.99},
      {"shift": 1449.05, "weight": 0.14, "intensity": 1.0},
      {"shift": 1449.25, "weight": 0.137, "intensity": 0.98},
      {"shift": 1449.45, "weight": 0.134, "intensity": 1.0},
      {"shift": 1449.65, "weight": 0.131, "intensity": 0.99},
      {"shift": 1449.85, "weight": 0.128, "intensity": 1.0},
      {"shift": 1450.05, "weight": 0.1245, "intensity": 0.98},
      {"shift": 1450.25, "weight": 0.121, "intensity": 1.0},
      {"shift": 1450.45, "weight": 0.118, "intensity": 0.99},
      {"shift": 1450.65, "weight": 0.115, "intensity": 1.0},
      {"shift": 1450.85, "weight": 0.112, "intensity": 0.98},
      {"shift": 1451.05, "weight": 0.109, "intensity": 1.0},
      {"shift": 1451.25, "weight": 0.106, "intensity": 0.99},
      {"shift": 1451.45, "weight": 0.103, "intensity": 1.0},
      {"shift": 1451.65, "weight": 0.1, "intensity": 0.98},
      {"shift": 1451.85, "weight": 0.097, "intensity": 1.0},
      {"shift": 1452.05, "weight": 0.0935, "intensity": 0.99},
      {"shift": 1452.25, "weight": 0.09, "intensity": 1.0}
    ],
    "crosshair": [
      {"shift": 1451, "weight": 0.1}
    ]
  },
  "layer": [
    {
      "data": {"name": "crosshair"},
      "mark": {"type": "rule", "color": "black", "strokeWidth": 1},
      "encoding": {
        "x": {
          "field": "shift",
          "type": "quantitative",
          "axis": {
            "orient": "top",
            "values": [1440, 1442, 1444, 1446, 1448, 1450, 1452, 1454],
            "labels": false,
            "title": null
          }
        }
      }
    },
    {
      "data": {"name": "crosshair"},
      "mark": {"type": "rule", "color": "black", "strokeWidth": 1},
      "encoding": {
        "y": {
          "field": "weight",
          "type": "quantitative",
          "axis": {
            "orient": "right",
            "values": [0, 0.05, 0.1, 0.15, 0.2, 0.25, 0.3, 0.35],
            "labels": false,
            "title": "Raman intensity [ a.u. ]",
            "titleAngle": -90,
            "titlePadding": 117
          }
        }
      }
    },
    {
      "data": {"name": "modes"},
      "mark": {"type": "point", "shape": "diamond", "filled": true, "opacity": 1, "strokeWidth": 0},
      "encoding": {
        "x": {
          "field": "shift",
          "type": "quantitative",
          "scale": {"domain": [1440, 1455], "nice": false, "zero": false},
          "axis": {
            "orient": "bottom",
            "values": [1440, 1442, 1444, 1446, 1448, 1450, 1452, 1454],
            "format": "d",
            "labelPadding": 18,
            "title": "Raman shift [ cm⁻¹ ]",
            "titlePadding": 20
          }
        },
        "y": {
          "field": "weight",
          "type": "quantitative",
          "scale": {"domain": [0, 0.35], "nice": false},
          "axis": {
            "orient": "left",
            "values": [0, 0.05, 0.1, 0.15, 0.2, 0.25, 0.3, 0.35],
            "format": "~g",
            "labelPadding": 14,
            "title": "¹³C weight of normal mode",
            "titlePadding": 6
          }
        },
        "color": {
          "field": "intensity",
          "type": "quantitative",
          "scale": {
            "domain": [0, 0.1, 0.2, 0.3, 0.42, 0.5, 0.6, 0.7, 0.8, 0.9, 1],
            "range": ["#01665e", "#1f7f74", "#4ba396", "#80cdc1", "#c7eae5", "#e3e8d5", "#f5e4c0", "#dcbd7f", "#c8955a", "#b06f20", "#8c510a"]
          },
          "legend": {
            "orient": "right",
            "direction": "vertical",
            "offset": -101,
            "padding": 0,
            "gradientLength": 587,
            "gradientThickness": 32,
            "gradientStrokeColor": "black",
            "gradientStrokeWidth": 1,
            "values": [0, 0.2, 0.4, 0.6, 0.8, 1],
            "format": "~g",
            "labelFontSize": 12,
            "labelColor": "black",
            "labelOffset": 10,
            "title": null,
            "encode": {
              "labels": {"update": {"baseline": {"value": "middle"}}}
            }
          }
        },
        "size": {
          "field": "intensity",
          "type": "quantitative",
          "scale": {"type": "pow", "exponent": 2, "domain": [0, 1], "range": [6, 180]},
          "legend": null
        }
      }
    }
  ]
}
